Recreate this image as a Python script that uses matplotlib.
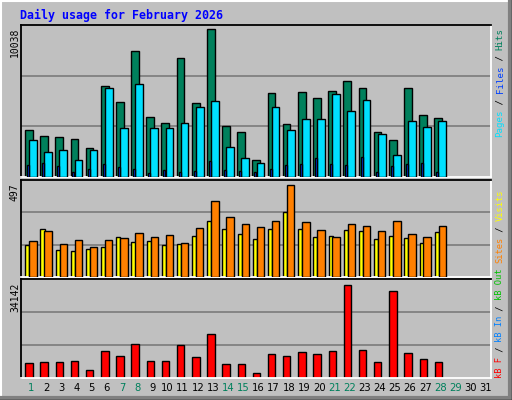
import matplotlib
matplotlib.use("Agg")
import matplotlib.pyplot as plt
import numpy as np
from matplotlib.lines import Line2D

days = list(range(1, 32))
hits = [3188, 2781, 2713, 2578, 1967, 6173, 5087, 8547, 4070, 3663, 8072, 5020, 10038, 3459,
        3052, 1153, 5698, 3595, 5766, 5359, 5834, 6512, 6037, 3052, 2510, 6037, 4206, 4002]
files = [2510, 1696, 1831, 1153, 1831, 6037, 3324, 6308, 3324, 3324, 3663, 4748, 5155, 2035,
         1289, 950, 4748, 3188, 3934, 3934, 5630, 4477, 5223, 2917, 1492, 3798, 3392, 3798]
pages = [814, 950, 746, 339, 543, 882, 678, 543, 271, 475, 339, 407, 1085, 475,
         407, 339, 543, 814, 882, 1289, 882, 814, 1357, 339, 746, 882, 950, 339]
visits = [173, 259, 146, 140, 151, 162, 216, 189, 194, 173, 178, 221, 302, 259,
          232, 205, 259, 351, 259, 216, 221, 254, 248, 205, 221, 211, 184, 243]
sites = [194, 248, 178, 200, 162, 200, 211, 238, 216, 227, 184, 265, 410, 324,
         286, 270, 302, 497, 297, 254, 216, 286, 275, 248, 302, 232, 216, 275]
kbytes = [5350, 5720, 5720, 6100, 3100, 9840, 7970, 12450, 6100, 6100, 12080, 7590, 16190, 4970,
          4970, 1980, 8710, 7970, 9460, 8710, 9840, 34142, 10210, 5720, 31900, 9090, 6840, 5720]
weekend = [1, 7, 8, 14, 15, 21, 22, 28, 29]
title = "Daily usage for February 2026"

W, H = 512, 400
fig = plt.figure(figsize=(W/100, H/100), dpi=100)
fig.patch.set_facecolor("#C0C0C0")
MONO = "DejaVu Sans Mono"

def ax_px(x0, y0, x1, y1):
    return fig.add_axes([x0/W, 1-y1/H, (x1-x0)/W, (y1-y0)/H])

fig.add_artist(Line2D([0, 1], [1-1/H, 1-1/H], color="white", lw=1.5, transform=fig.transFigure))
fig.add_artist(Line2D([1/W, 1/W], [0, 1], color="white", lw=1.5, transform=fig.transFigure))
fig.add_artist(Line2D([0, 1], [2/H, 2/H], color="#808080", lw=3, transform=fig.transFigure))
fig.add_artist(Line2D([1-2/W, 1-2/W], [0, 1], color="#808080", lw=3, transform=fig.transFigure))
fig.add_artist(Line2D([0, 1], [0.5/H, 0.5/H], color="black", lw=1, transform=fig.transFigure))
fig.add_artist(Line2D([1-0.5/W, 1-0.5/W], [0, 1], color="black", lw=1, transform=fig.transFigure))

x = np.array(days[:len(hits)])
XL = (0.34, 31.34)

def style(ax, top, frac=(1/3, 2/3)):
    ax.set_facecolor("#C0C0C0")
    ax.set_xlim(*XL)
    ax.set_ylim(0, top)
    for f in frac:
        ax.axhline(top*f, color="#808080", lw=1.3, zorder=0)
    ax.set_xticks([]); ax.set_yticks([])
    ax.spines["top"].set_color("black"); ax.spines["left"].set_color("black")
    ax.spines["bottom"].set_color("white"); ax.spines["right"].set_color("white")
    for s in ax.spines.values():
        s.set_linewidth(1.3)

ek = dict(edgecolor="black", linewidth=1.0)
a1 = ax_px(21, 25, 491, 177)
style(a1, 10310)
a1.bar(x-0.14, hits, 0.51, color="#00805C", **ek, zorder=2)
a1.bar(x+0.13, files, 0.51, color="#00E0FF", **ek, zorder=3)
a1.bar(x-0.2, pages, 0.13, color="#0040FF", **ek, zorder=4)

a2 = ax_px(21, 180, 491, 277)
style(a2, 522)
a2.bar(x-0.24, visits, 0.27, color="#FFFF00", **ek, zorder=2)
a2.bar(x+0.13, sites, 0.49, color="#FF8000", **ek, zorder=3)

a3 = ax_px(21, 279, 491, 378)
style(a3, 36280)
a3.bar(x-0.13, kbytes, 0.49, color="#FF0000", **ek, zorder=2)

fig.text(20/W, 1-15/H, title, color="#0000FF", fontsize=8.4, fontweight="bold",
         family=MONO, ha="left", va="center")

for txt, ytop in [("10038", 28), ("497", 183), ("34142", 283)]:
    fig.text(15/W, 1-ytop/H, txt, rotation=90, fontsize=7, family=MONO,
             ha="center", va="top")

for d in days:
    xp = 21 + (d - XL[0]) / (XL[1]-XL[0]) * 470
    fig.text(xp/W, 1-388/H, str(d), fontsize=7.2, family="DejaVu Sans",
             color="#00805C" if d in weekend else "black", ha="center", va="center")

def vlabel(parts, ystart, cw=5.2, xp=500, fs=6.3):
    y = ystart
    for t, c in parts:
        fig.text(xp/W, 1-y/H, t, rotation=90, fontsize=fs, family=MONO, color=c,
                 ha="center", va="bottom")
        y -= cw*len(t)

vlabel([("Pages", "#00E0FF"), (" / ", "black"), ("Files", "#0040FF"), (" / ", "black"),
        ("Hits", "#00805C")], 137, cw=5.45, fs=6.6)
vlabel([("Sites", "#FF8000"), (" / ", "black"), ("Visits", "#FFFF00")], 263)
vlabel([("kB F", "#FF0000"), (" / ", "black"), ("kB In", "#0080FF"), (" / ", "black"),
        ("kB Out", "#00C000")], 378)

fig.savefig("out.png", dpi=100, facecolor=fig.get_facecolor())
